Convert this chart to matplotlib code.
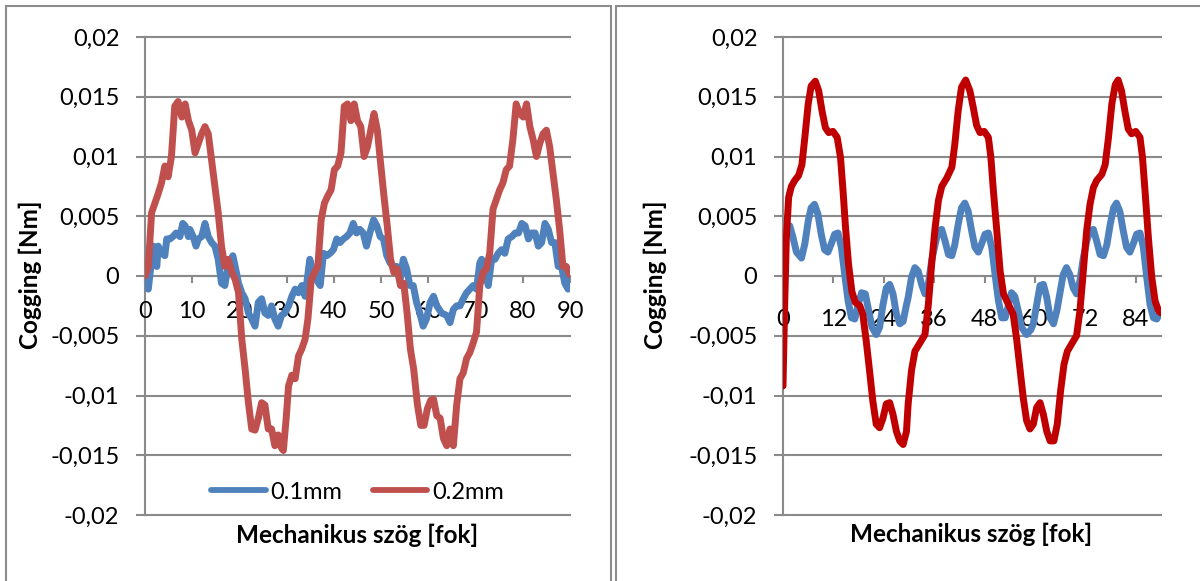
import matplotlib
matplotlib.use('Agg')
import matplotlib.pyplot as plt
from matplotlib.patches import Rectangle

# ---------------- data ----------------
Y_TICKS = [-0.02, -0.015, -0.01, -0.005, 0, 0.005, 0.01, 0.015, 0.02]
Y_TICK_LABELS = ["-0,02", "-0,015", "-0,01", "-0,005", "0", "0,005", "0,01", "0,015", "0,02"]
LEFT_X_TICKS = [0, 10, 20, 30, 40, 50, 60, 70, 80, 90]
RIGHT_X_TICKS = [0, 12, 24, 36, 48, 60, 72, 84]
SERIES_NAMES = ["0.1mm", "0.2mm"]
X_TITLE = "Mechanikus szög [fok]"
Y_TITLE = "Cogging [Nm]"

# left chart, 0.1mm
left_01_x = [0, 0.35, 0.7, 1.1, 1.8, 2.1, 2.5, 2.8, 3.5, 4.2, 4.6, 5.3, 5.9, 6.6, 7.4, 8.0, 8.5, 9.2, 9.5,
             10.2, 10.8, 11.3, 12.0, 12.7, 13.4, 14.1, 14.8, 15.5, 16.2, 16.9, 17.6, 18.6, 19.1, 19.8,
             20.5, 21.2, 21.9, 22.6, 23.3, 24.0, 24.7, 25.4, 26.1, 26.8, 27.5, 28.2, 28.9, 29.6,
             30.4, 31.1, 31.8, 32.5, 33.2, 33.9, 34.9, 35.6, 36.3, 37.1, 37.8, 38.5, 39.2, 39.9,
             40.6, 41.3, 42.0, 42.7, 43.4, 44.1, 44.8, 45.5, 46.2, 46.9, 47.6, 48.4, 49.1, 49.8,
             50.5, 51.2, 51.9, 52.6, 53.3, 54.0, 54.7, 55.4, 56.1, 56.8, 57.5, 58.2, 58.9, 59.6,
             60.4, 61.1, 61.8, 62.8, 63.9, 64.6, 65.3, 66.0, 66.7, 67.4, 68.1, 68.8, 69.5,
             70.2, 70.9, 71.3, 72.0, 72.7, 73.4, 74.1, 74.8, 75.5, 76.2, 76.9, 77.7, 78.4, 79.1, 79.8,
             80.5, 81.2, 81.9, 82.6, 83.3, 84.0, 84.7, 85.4, 86.1, 86.8, 87.5, 88.2, 88.9, 89.6, 90.0]
left_01_y = [0, -0.0008, -0.0011, 0.0003, 0.0025, 0.0014, 0.0008, 0.0025, 0.0019, 0.0017, 0.0031, 0.0031,
             0.0033, 0.0036, 0.0033, 0.0044, 0.0042, 0.0033, 0.0039,
             0.0033, 0.0025, 0.0031, 0.0033, 0.0044, 0.0033, 0.0028, 0.0025, 0.0014, -0.0006, -0.0008,
             0.0008, 0.0017, 0.0008, -0.0006,
             -0.0014, -0.0019, -0.0031, -0.0036, -0.0042, -0.0022, -0.0019, -0.0031, -0.0033, -0.0025,
             -0.0036, -0.0042, -0.0033, -0.0031,
             -0.0025, -0.0017, -0.0011, -0.0014, -0.0008, -0.0017, 0.0014, 0.0003, -0.0003, -0.0008,
             0.0019, 0.0017, 0.0019, 0.0022,
             0.0031, 0.0028, 0.0031, 0.0033, 0.0036, 0.0044, 0.0036, 0.0039, 0.0036, 0.0025, 0.0036,
             0.0047, 0.0042, 0.0033,
             0.0031, 0.0017, 0.0011, 0.0008, 0.0008, -0.0003, 0.0014, 0.0006, -0.0008, -0.0008, -0.0022,
             -0.0031, -0.0042, -0.0036,
             -0.0022, -0.0017, -0.0025, -0.0031, -0.0033, -0.0039, -0.0028, -0.0025, -0.0025, -0.0019,
             -0.0014, -0.0011, -0.0008,
             -0.0011, 0.0011, 0.0014, 0.0003, -0.0008, 0.0014, 0.0014, 0.0019, 0.0022, 0.0019, 0.0031,
             0.0033, 0.0036, 0.0036, 0.0044,
             0.0042, 0.0031, 0.0036, 0.0036, 0.0025, 0.0028, 0.0044, 0.0039, 0.0028, 0.0028, 0.0008,
             0.0008, -0.0006, -0.0011, 0.0]

# left chart, 0.2mm
left_02_x = [0, 0.7, 1.4, 2.1, 2.8, 3.5, 4.2, 4.9, 5.6, 6.3, 7.0, 7.8, 8.5, 9.2, 9.9,
             10.6, 11.3, 12.0, 12.7, 13.4, 14.1, 14.8, 15.5, 16.2, 16.9, 17.6, 18.4, 19.1, 19.8,
             20.5, 21.2, 21.9, 22.6, 23.3, 24.0, 24.7, 25.4, 26.1, 26.8, 27.5, 28.2, 28.9, 29.3, 29.9,
             30.4, 31.1, 31.8, 32.5, 33.2, 33.9, 34.5, 35.2, 35.9, 36.6, 37.3, 38.0, 38.7, 39.4,
             40.1, 40.8, 41.5, 42.2, 42.9, 43.6, 44.3, 45.0, 45.7, 46.4, 47.1, 47.8, 48.5, 49.2, 49.9,
             50.6, 51.3, 52.0, 52.7, 53.4, 54.1, 54.8, 55.5, 56.2, 56.9, 57.7, 58.4, 59.1, 59.8,
             60.5, 61.1, 61.8, 62.5, 63.2, 63.9, 64.6, 65.3, 66.0, 66.7, 67.4, 68.1, 68.8, 69.5,
             70.2, 70.9, 71.6, 72.3, 73.0, 73.7, 74.4, 75.1, 75.8, 76.5, 77.2, 77.9, 78.6, 79.3,
             80.1, 80.8, 81.5, 82.2, 82.9, 83.6, 84.3, 85.0, 85.7, 86.4, 87.1, 87.8, 88.5, 89.2, 90.0]
left_02_y = [0, 0.0008, 0.0053, 0.0061, 0.0069, 0.0078, 0.0092, 0.0083, 0.0100, 0.0142, 0.0146, 0.0133,
             0.0144, 0.0130, 0.0122,
             0.0103, 0.0111, 0.0119, 0.0125, 0.0119, 0.0097, 0.0075, 0.0053, 0.0025, 0.0008, 0.0014,
             0.0003, -0.0003, -0.0014,
             -0.0053, -0.0078, -0.0106, -0.0128, -0.0129, -0.0119, -0.0106, -0.0108, -0.0128, -0.0128,
             -0.0142, -0.0133, -0.0144, -0.0146, -0.0119,
             -0.0092, -0.0083, -0.0086, -0.0067, -0.0061, -0.0053, -0.0036, -0.0003, 0.0003, 0.0008,
             0.0047, 0.0061, 0.0067, 0.0072,
             0.0089, 0.0092, 0.0103, 0.0142, 0.0144, 0.0130, 0.0144, 0.0130, 0.0125, 0.0100, 0.0108,
             0.0122, 0.0136, 0.0122, 0.0094,
             0.0067, 0.0042, 0.0014, 0.0003, 0.0006, -0.0008, -0.0006, -0.0031, -0.0061, -0.0078,
             -0.0108, -0.0125, -0.0125, -0.0111,
             -0.0104, -0.0103, -0.0117, -0.0119, -0.0136, -0.0142, -0.0128, -0.0142, -0.0108, -0.0086,
             -0.0081, -0.0069, -0.0064, -0.0056,
             -0.0047, -0.0008, 0.0003, 0.0006, 0.0019, 0.0056, 0.0064, 0.0072, 0.0078, 0.0089, 0.0092,
             0.0114, 0.0144, 0.0136,
             0.0133, 0.0144, 0.0125, 0.0114, 0.0100, 0.0111, 0.0119, 0.0122, 0.0108, 0.0086, 0.0064,
             0.0039, 0.0008, 0.0008, 0.0001]

# right chart, 0.1mm
right_01_x = [1.0, 1.6, 2.4, 3.2, 4.4, 5.2, 6.0, 6.7, 7.5, 8.3, 9.1, 9.9,
              10.7, 11.5, 12.3, 13.1, 13.9, 14.7, 15.5, 16.3, 17.1, 17.9, 18.7, 19.6,
              20.4, 21.2, 22.2, 23.0, 23.8, 24.6, 25.4, 26.2, 27.0, 27.8, 28.6, 29.4, 29.8,
              30.6, 31.4, 32.2, 33.0, 33.8, 34.6, 35.4, 36.2, 37.0, 37.8, 38.6, 39.4,
              40.2, 40.9, 41.7, 42.5, 43.3, 44.1, 44.9, 45.7, 46.5, 47.3, 48.1, 48.9, 49.7,
              50.5, 51.3, 52.1, 52.9, 53.7, 54.4, 55.2, 56.0, 56.8, 58.0, 59.0, 59.6,
              60.4, 61.2, 62.0, 62.8, 63.6, 64.4, 65.2, 66.0, 66.7, 67.5, 68.3, 69.1, 69.9,
              70.7, 71.5, 72.3, 73.1, 73.9, 74.7, 75.5, 76.3, 77.1, 77.9, 78.7, 79.4,
              80.2, 81.0, 81.8, 82.6, 83.4, 84.2, 85.0, 85.8, 86.6, 87.4, 88.2, 89.0, 90.0]
right_01_y = [0.0041, 0.0042, 0.0032, 0.0020, 0.0015, 0.0027, 0.0046, 0.0057, 0.0060, 0.0052, 0.0035,
              0.0022,
              0.0020, 0.0027, 0.0035, 0.0036, 0.0024, 0.0001, -0.0021, -0.0035, -0.0036, -0.0024,
              -0.0014, -0.0015,
              -0.0029, -0.0043, -0.0049, -0.0043, -0.0024, -0.0010, -0.0007, -0.0015, -0.0032, -0.0040,
              -0.0038, -0.0024, -0.0018,
              -0.0001, 0.0007, 0.0004, -0.0007, -0.0015, -0.0007, 0.0013, 0.0026, 0.0038, 0.0039,
              0.0029, 0.0018,
              0.0017, 0.0026, 0.0043, 0.0057, 0.0061, 0.0054, 0.0038, 0.0024, 0.0020, 0.0027, 0.0035,
              0.0036, 0.0024,
              0.0001, -0.0021, -0.0035, -0.0035, -0.0024, -0.0014, -0.0017, -0.0029, -0.0043, -0.0049,
              -0.0045, -0.0040,
              -0.0024, -0.0008, -0.0007, -0.0018, -0.0035, -0.0040, -0.0029, -0.0013, 0.0001, 0.0007,
              0.0001, -0.0010, -0.0015,
              -0.0004, 0.0015, 0.0029, 0.0038, 0.0039, 0.0029, 0.0018, 0.0017, 0.0026, 0.0043, 0.0057,
              0.0061,
              0.0054, 0.0038, 0.0024, 0.0020, 0.0027, 0.0035, 0.0036, 0.0024, -0.0001, -0.0024,
              -0.0035, -0.0036, -0.0029]

# right chart, 0.2mm
right_02_x = [0, 0.4, 0.8, 1.35, 2.0, 2.8, 3.7, 4.5, 5.2, 6.0, 6.7, 7.7, 8.5, 9.3,
              10.1, 10.9, 11.9, 12.9, 13.7, 14.3, 14.9, 15.6, 16.4, 17.2, 18.3, 19.0, 19.8,
              20.6, 21.4, 22.2, 23.0, 23.8, 24.6, 25.4, 26.2, 27.0, 27.8, 28.6, 29.4, 29.8,
              30.6, 31.4, 32.6, 33.8, 34.6, 35.4, 36.2, 37.0, 37.8, 39.0,
              40.2, 40.9, 41.7, 42.5, 43.5, 44.5, 45.3, 46.1, 46.9, 47.9, 48.9, 49.5,
              50.1, 50.9, 51.7, 52.5, 53.7, 54.8, 55.6, 56.4, 57.2, 58.0, 58.8, 59.6,
              60.4, 61.2, 62.0, 62.8, 63.6, 64.5, 65.3, 66.1, 66.9, 67.7, 68.7, 69.9,
              70.7, 71.5, 72.3, 73.1, 73.9, 74.7, 75.9, 76.7, 77.5, 78.3, 79.1, 79.8,
              80.6, 81.4, 82.2, 83.0, 84.0, 85.0, 85.6, 86.2, 87.0, 87.8, 88.6, 89.4, 90.0]
right_02_y = [-0.0092, -0.0024, 0.0032, 0.0066, 0.0075, 0.0080, 0.0084, 0.0093, 0.0116, 0.0144, 0.0159,
              0.0163, 0.0155, 0.0138,
              0.0124, 0.0120, 0.0121, 0.0116, 0.0099, 0.0071, 0.0040, 0.0010, -0.0013, -0.0022,
              -0.0025, -0.0032, -0.0054,
              -0.0079, -0.0105, -0.0124, -0.0127, -0.0119, -0.0107, -0.0106, -0.0116, -0.0130, -0.0138,
              -0.0141, -0.0130, -0.0107,
              -0.0079, -0.0063, -0.0056, -0.0049, -0.0024, 0.0010, 0.0040, 0.0063, 0.0075, 0.0082,
              0.0091, 0.0110, 0.0138, 0.0158, 0.0164, 0.0155, 0.0141, 0.0126, 0.0120, 0.0121, 0.0116,
              0.0099,
              0.0071, 0.0038, 0.0004, -0.0015, -0.0024, -0.0032, -0.0052, -0.0077, -0.0102, -0.0121,
              -0.0128, -0.0124,
              -0.0110, -0.0106, -0.0116, -0.0130, -0.0138, -0.0138, -0.0124, -0.0096, -0.0074, -0.0063,
              -0.0057, -0.0050,
              -0.0029, 0.0004, 0.0038, 0.0060, 0.0074, 0.0080, 0.0085, 0.0093, 0.0116, 0.0144, 0.0160,
              0.0164,
              0.0155, 0.0138, 0.0123, 0.0119, 0.0121, 0.0116, 0.0099, 0.0071, 0.0032, -0.0001, -0.0021,
              -0.0029, -0.0031]

# ---------------- style ----------------
plt.rcParams['font.family'] = ['Lato', 'DejaVu Sans']
GRAY = '#8a8a8a'
FRAME = '#8c8c8c'
TICK_FS = 17
TITLE_FS = 17.5
LW = 5.0

W, H = 1200, 581
fig = plt.figure(figsize=(W / 100, H / 100), dpi=100)


def px_axes(x0, x1, y0, y1):
    return fig.add_axes([x0 / W, 1 - y1 / H, (x1 - x0) / W, (y1 - y0) / H])


def style(ax, xticks, xpad):
    ax.set_xlim(0, 90)
    ax.set_ylim(-0.02, 0.02)
    ax.patch.set_alpha(0)
    for s in ['top', 'right']:
        ax.spines[s].set_visible(False)
    ax.spines['bottom'].set_position(('data', 0))
    for s in ['bottom', 'left']:
        ax.spines[s].set_color(GRAY)
        ax.spines[s].set_linewidth(1.5)
        ax.spines[s].set_zorder(1)
    ax.set_yticks(Y_TICKS)
    ax.set_yticklabels(Y_TICK_LABELS)
    ax.set_xticks(xticks)
    ax.set_xticklabels([str(t) for t in xticks])
    ax.tick_params(axis='y', direction='out', length=6.5, width=1.5, color=GRAY, pad=12,
                   labelsize=TICK_FS, labelcolor='black')
    ax.tick_params(axis='x', direction='out', length=5, width=1.5, color=GRAY, pad=xpad,
                   labelsize=TICK_FS, labelcolor='black')
    for t in Y_TICKS:
        ax.axhline(t, color=GRAY, lw=1.5, zorder=1, clip_on=False)


# left chart
axL = px_axes(145, 570, 37, 515)
style(axL, LEFT_X_TICKS, 13)
axL.plot(left_01_x, left_01_y, color='#4F81BD', lw=LW, zorder=2, solid_joinstyle='round',
         solid_capstyle='round', label=SERIES_NAMES[0])
axL.plot(left_02_x, left_02_y, color='#C0504D', lw=LW, zorder=2.1, solid_joinstyle='round',
         solid_capstyle='round', label=SERIES_NAMES[1])
leg = axL.legend(loc='center', bbox_to_anchor=(0.5, 0.048), ncol=2, frameon=False,
                 fontsize=TICK_FS, handlelength=2.3, handletextpad=0.2, columnspacing=1.3,
                 borderpad=0, borderaxespad=0)
for h in leg.get_lines():
    h.set_linewidth(4.2)

# right chart
axR = px_axes(783, 1161, 37, 515)
style(axR, RIGHT_X_TICKS, 18.5)
axR.plot(right_01_x, right_01_y, color='#4F81BD', lw=LW, zorder=2, solid_joinstyle='round',
         solid_capstyle='round', label=SERIES_NAMES[0])
axR.plot(right_02_x, right_02_y, color='#C00000', lw=LW, zorder=2.1, solid_joinstyle='round',
         solid_capstyle='round', label=SERIES_NAMES[1])

# axis titles
for cx, cy in [(357, 535), (971, 534)]:
    fig.text(cx / W, 1 - cy / H, X_TITLE, ha='center', va='center', fontsize=TITLE_FS,
             fontweight='bold')
for cx in [30, 655]:
    fig.text(cx / W, 1 - 275 / H, Y_TITLE, ha='center', va='center', rotation=90,
             fontsize=TITLE_FS, fontweight='bold')

# chart frames
fig.add_artist(Rectangle((6 / W, -0.05), (611 - 6) / W, 1.05 - 6 / H, transform=fig.transFigure,
                         fill=False, edgecolor=FRAME, lw=1.5))
fig.add_artist(Rectangle((616 / W, -0.05), 1.0, 1.05 - 6 / H, transform=fig.transFigure,
                         fill=False, edgecolor=FRAME, lw=1.5))

fig.savefig('out.png', dpi=100)
